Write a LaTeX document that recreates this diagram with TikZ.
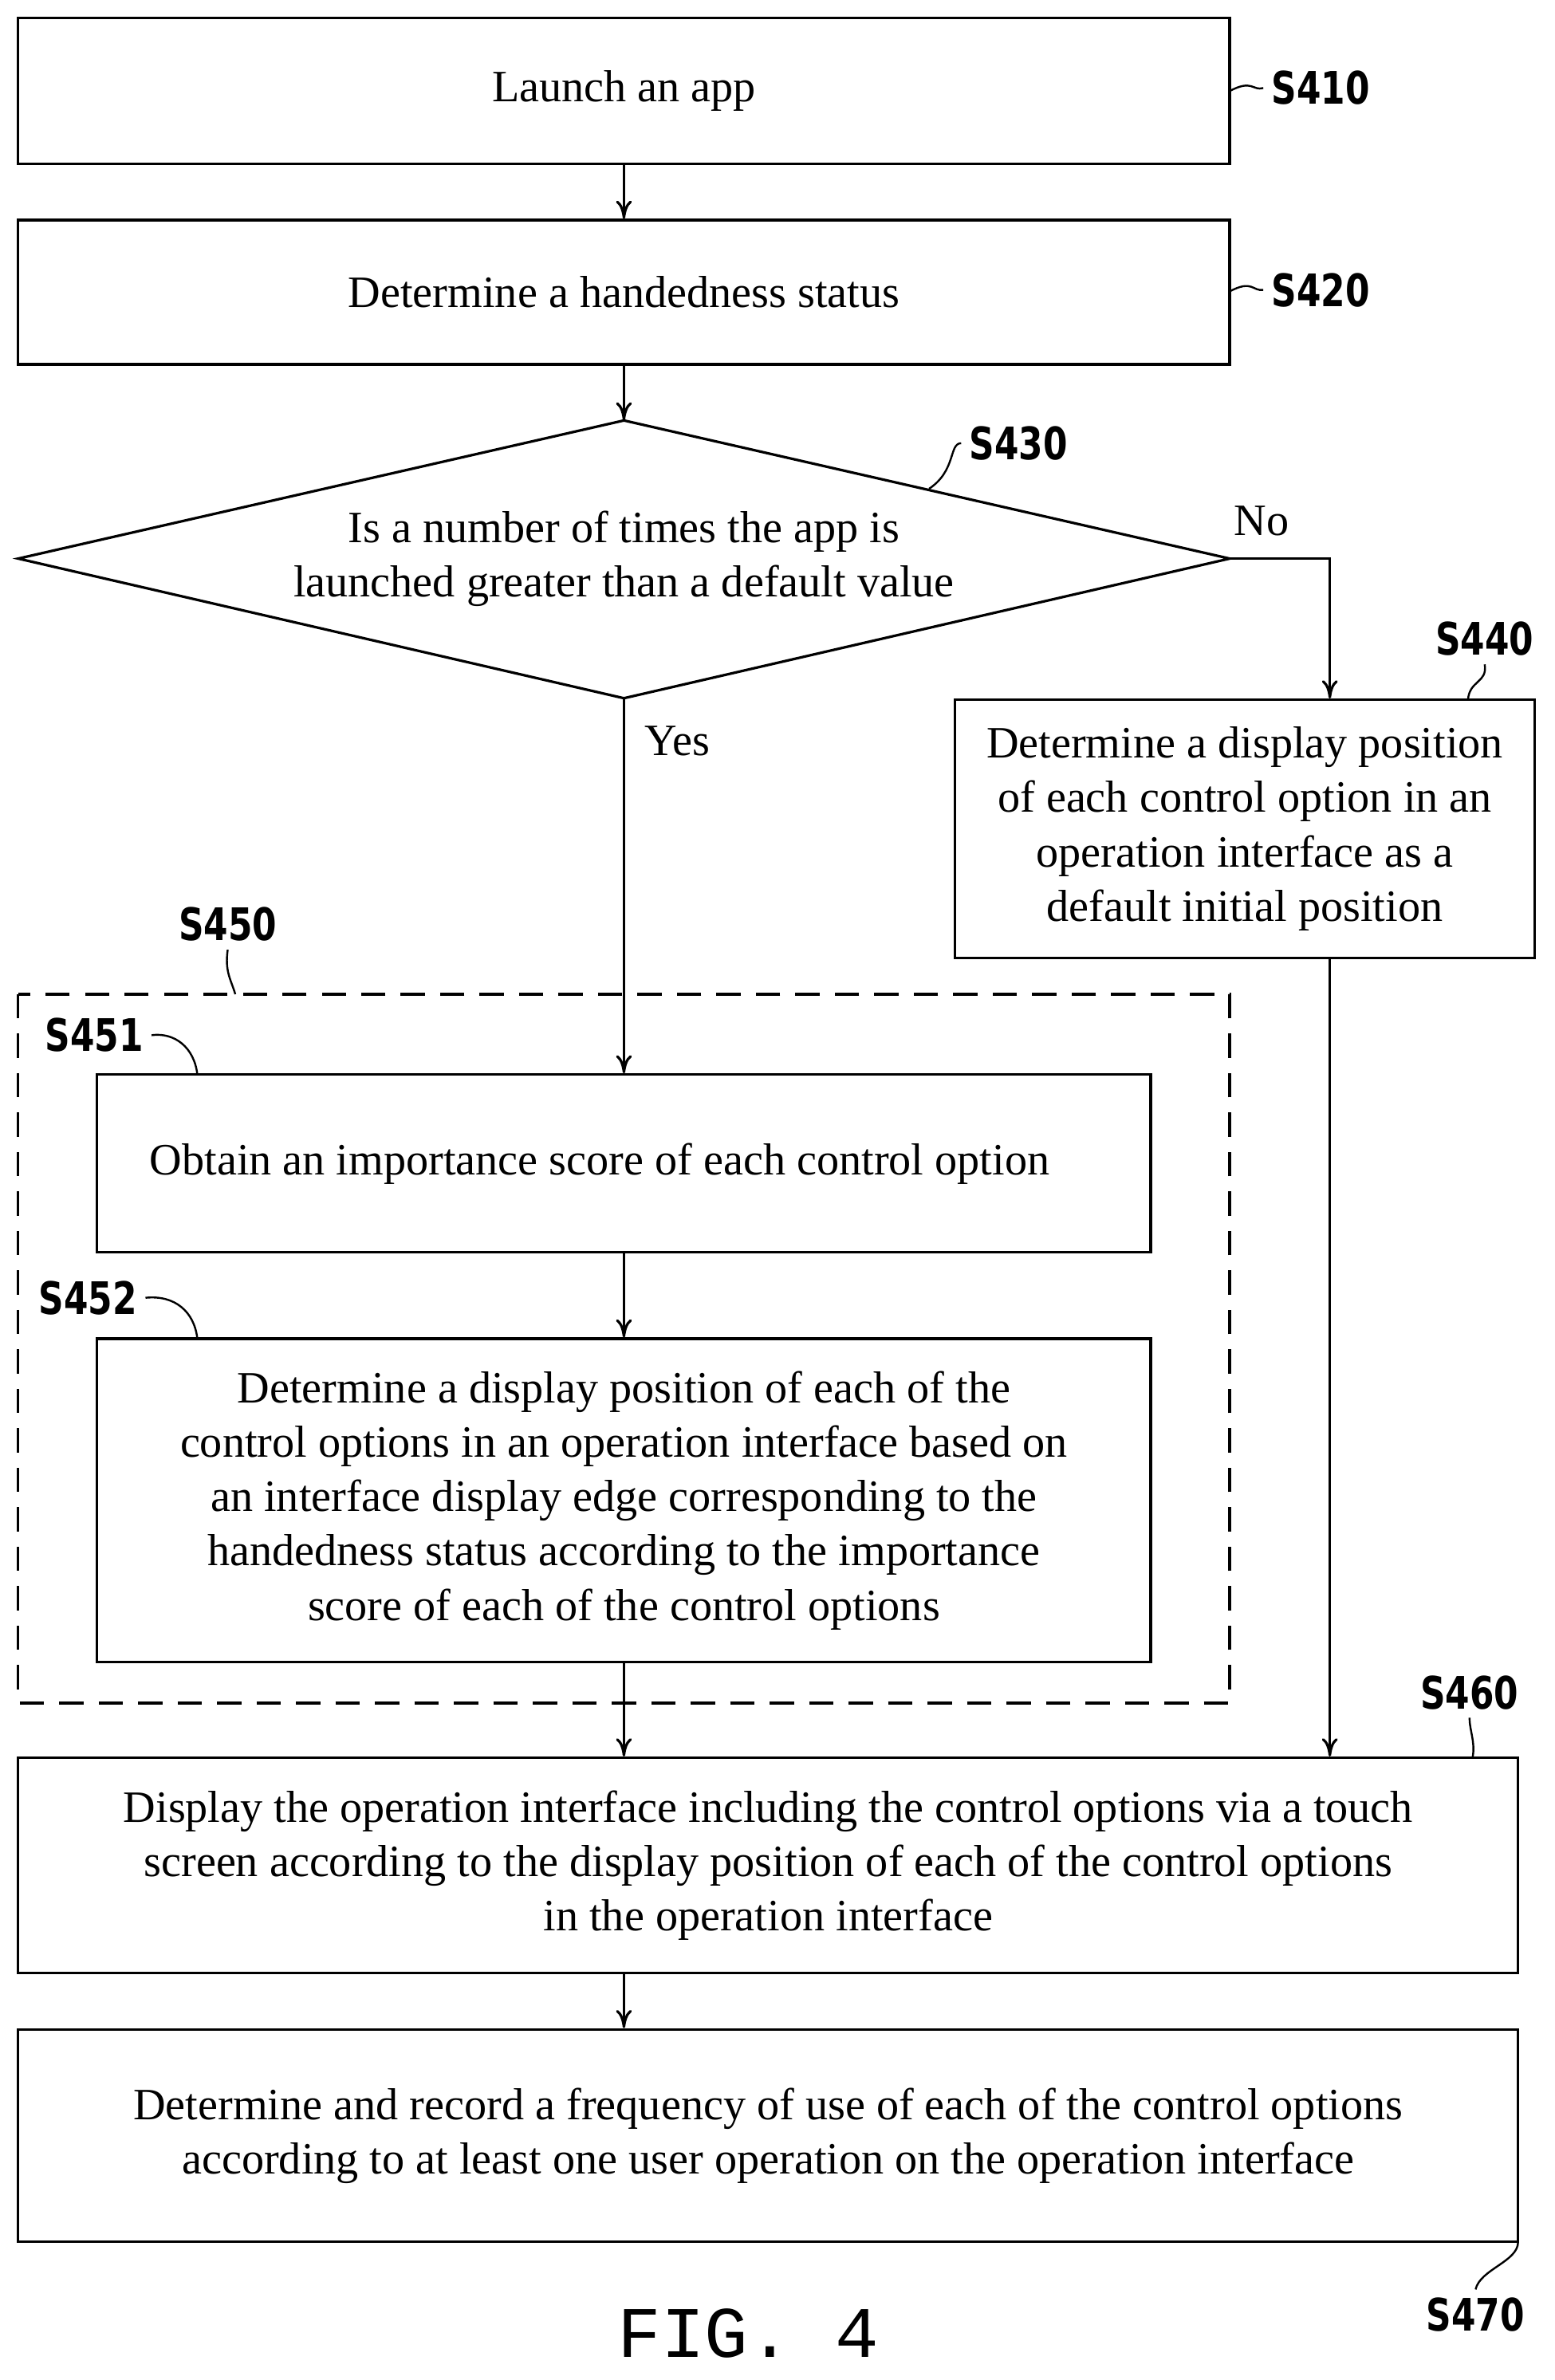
\documentclass[tikz,border=0pt]{standalone}
\usepackage{fontspec}
\setmainfont{Liberation Serif}
\newfontfamily\labfont{DejaVu Sans}[FakeStretch=0.78]
\newfontfamily\figfont{Liberation Mono}
\usetikzlibrary{arrows.meta}

\begin{document}
\begin{tikzpicture}[x=0.25mm,y=-0.25mm,line width=1.2pt,
    box/.style={draw,align=center,inner sep=0pt,font=\fontsize{21}{25.5}\selectfont},
    arr/.style={-{To[length=3mm,width=2.6mm]}},
    lab/.style={font=\labfont\bfseries\fontsize{21}{24}\selectfont},
    lead/.style={line width=0.9pt}]
  \useasboundingbox (0,0) rectangle (1024,1568);
  % boxes
  \node[box,minimum width=199.5mm,minimum height=24mm] (s410) at (411,60) {Launch an app};
  \node[box,minimum width=199.5mm,minimum height=23.75mm] (s420) at (411,192.5) {Determine a handedness status};
  \coordinate (dT) at (411,277);
  \coordinate (dB) at (411,460);
  \coordinate (dL) at (12,368);
  \coordinate (dR) at (810,368);
  \draw (dT) -- (dR) -- (dB) -- (dL) -- cycle;
  \node[box,draw=none] (s430) at (411,368) {Is a number of times the app is\\launched greater than a default value};
  \node[box,minimum width=95.5mm,minimum height=42.5mm] (s440) at (820,546)
    {Determine a display position\\of each control option in an\\operation interface as a\\default initial position};
  \draw[dash pattern=on 4mm off 2.5mm] (12,655) rectangle (810,1122);
  \node[box,minimum width=173.5mm,minimum height=29.25mm] (s451) at (411,766.5)
    {Obtain an importance score of each control option\hspace{8mm}};
  \node[box,minimum width=173.5mm,minimum height=53.25mm] (s452) at (411,988.5)
    {Determine a display position of each of the\\control options in an operation interface based on\\an interface display edge corresponding to the\\handedness status according to the importance\\score of each of the control options};
  \node[box,minimum width=247mm,minimum height=35.5mm] (s460) at (506,1229)
    {Display the operation interface including the control options via a touch\\screen according to the display position of each of the control options\\in the operation interface};
  \node[box,minimum width=247mm,minimum height=35mm] (s470) at (506,1407)
    {Determine and record a frequency of use of each of the control options\\according to at least one user operation on the operation interface};
  % connectors
  \coordinate (noX) at (876,368);
  \draw[arr] (s410) -- (s420);
  \draw[arr] (s420) -- (dT);
  \draw[arr] (dB) -- (s451);
  \draw[arr] (dR) -- (noX) -- (noX |- s440.north);
  \draw[arr] (s440.south -| noX) -- (noX |- s460.north);
  \draw[arr] (s451) -- (s452);
  \draw[arr] (s452) -- (s452.south |- s460.north);
  \draw[arr] (s460.south -| s452.south) -- (s452.south |- s470.north);
  \node[box,draw=none] (yes) at (446,488) {Yes};
  \node[box,draw=none] (no) at (831,343) {No};
  % step labels
  \node[lab] (l410) at (870,58) {S410};
  \node[lab] (l420) at (870,191) {S420};
  \node[lab] (l430) at (671,292) {S430};
  \node[lab] (l440) at (978,421) {S440};
  \node[lab] (l450) at (150,609) {S450};
  \node[lab] (l451) at (62,682) {S451};
  \node[lab] (l452) at (58,855) {S452};
  \node[lab] (l460) at (968,1115) {S460};
  \node[lab] (l470) at (972,1525) {S470};
  \draw[lead] (810,60) .. controls (825,52) and (825,60) .. (l410.west);
  \draw[lead] (810,192) .. controls (825,184) and (825,192) .. (l420.west);
  \draw[lead] (612,322) .. controls (630,310) and (625,292) .. (l430.west);
  \draw[lead] (967,461) .. controls (968,448) and (980,450) .. (l440.south);
  \draw[lead] (155,655) .. controls (152,645) and (148,640) .. (l450.south);
  \draw[lead] (130,708) .. controls (128,690) and (115,680) .. (l451.east);
  \draw[lead] (130,882) .. controls (128,864) and (115,853) .. (l452.east);
  \draw[lead] (970,1158) .. controls (972,1148) and (968,1140) .. (l460.south);
  \draw[lead] (1000,1477) .. controls (1000,1490) and (975,1495) .. (l470.north);
  \node[font=\figfont\fontsize{34}{38}\selectfont] (fig) at (493,1537) {FIG. 4};
\end{tikzpicture}
\end{document}
